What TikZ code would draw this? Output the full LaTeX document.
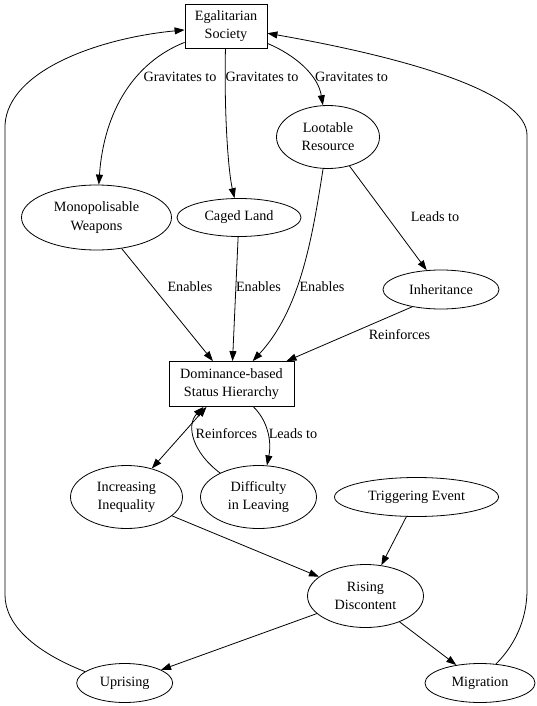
\documentclass[tikz,border=0pt]{standalone}
\usepackage{fontspec}
\setmainfont{Liberation Serif}
\usetikzlibrary{shapes.geometric,arrows.meta}
\begin{document}
\begin{tikzpicture}[x=1pt,y=-1pt, line width=0.8pt,
  every node/.style={font=\fontsize{14.2}{18.2}\selectfont, align=center},
  box/.style={draw, rectangle, inner sep=0pt},
  ell/.style={draw, ellipse, inner sep=0pt},
  lab/.style={inner sep=0pt},
  arr/.style={-{Triangle[length=10pt,width=7pt]}},
  darr/.style={{Triangle[length=10pt,width=7pt]}-{Triangle[length=10pt,width=7pt]}}]
\useasboundingbox (0,0) rectangle (537,706);
% nodes
\node[box, minimum width=82pt, minimum height=44pt] (egal) at (226,26) {Egalitarian\\Society};
\node[ell, minimum width=103pt, minimum height=63pt] (loot) at (328,137) {Lootable\\Resource};
\node[ell, minimum width=150pt, minimum height=65pt] (monop) at (96.5,217.5) {Monopolisable\\Weapons};
\node[ell, minimum width=124pt, minimum height=38pt] (caged) at (239,217.5) {Caged Land};
\node[ell, minimum width=116pt, minimum height=39pt] (inher) at (441,289.5) {Inheritance};
\node[box, minimum width=125pt, minimum height=45pt] (dom) at (231.5,384) {Dominance-based\\Status Hierarchy};
\node[ell, minimum width=112pt, minimum height=63pt] (incr) at (126.5,497) {Increasing\\Inequality};
\node[ell, minimum width=116pt, minimum height=63pt] (diff) at (258.5,497) {Difficulty\\in Leaving};
\node[ell, minimum width=164pt, minimum height=39pt] (trig) at (416.5,497) {Triggering Event};
\node[ell, minimum width=116pt, minimum height=63pt] (rise) at (365.5,596) {Rising\\Discontent};
\node[ell, minimum width=96pt, minimum height=39pt] (upr) at (124.7,683) {Uprising};
\node[ell, minimum width=110pt, minimum height=39pt] (migr) at (480,683) {Migration};
% edges
\draw[arr] (egal) .. controls (135,62) and (104,110) .. (monop);
\draw[arr] (egal) .. controls (224,110) and (228,170) .. (caged);
\draw[arr] (egal) .. controls (295,55) and (318,75) .. (loot);
\draw[arr] (loot) -- (inher);
\draw[arr] (monop) -- (dom);
\draw[arr] (caged) -- (dom);
\draw[arr] (loot) .. controls (312,240) and (300,310) .. (dom);
\draw[arr] (inher.211) -- ([xshift=55pt]dom.north);
\draw[darr] (incr) -- ([xshift=-25pt]dom.south);
\draw[arr] (diff.148) .. controls (192,452) and (186,425) .. ([xshift=-28pt]dom.south);
\draw[arr] ([xshift=22pt]dom.south) .. controls (267,420) and (272,440) .. (diff.75);
\draw[arr] (incr) -- (rise);
\draw[arr] (trig) -- (rise);
\draw[arr] (rise) -- (upr);
\draw[arr] (rise) -- (migr);
\draw[arr] (upr.164) .. controls (35,652) and (5,625) .. (5,595) -- (5,125) .. controls (8,70) and (100,38) .. (egal);
\draw[arr] (migr.50) .. controls (518,642) and (527,615) .. (527,590) -- (527,135) .. controls (527,95) and (420,60) .. (egal);
% labels
\node[lab] (l1) at (180,77) {Gravitates to};
\node[lab] (l2) at (262,77) {Gravitates to};
\node[lab] (l3) at (351.5,77) {Gravitates to};
\node[lab] (l4) at (435,216.5) {Leads to};
\node[lab] (l5) at (190,287) {Enables};
\node[lab] (l6) at (258.5,287) {Enables};
\node[lab] (l7) at (322,287) {Enables};
\node[lab] (l8) at (399.5,335) {Reinforces};
\node[lab] (l9) at (226.5,433.5) {Reinforces};
\node[lab] (l10) at (293,433.5) {Leads to};
\end{tikzpicture}
\end{document}
